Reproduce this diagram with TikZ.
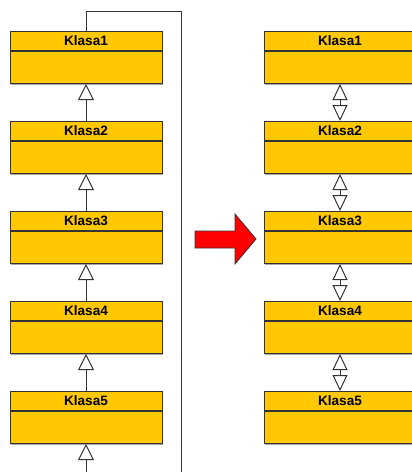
\documentclass[tikz,border=0pt]{standalone}
\usepackage{fontspec}
\setmainfont{Liberation Sans}
\usetikzlibrary{arrows.meta,shadows}
\definecolor{boxfill}{HTML}{FFC800}
\definecolor{edge}{HTML}{333333}
\definecolor{arrred}{HTML}{FF0000}
\tikzset{
  hdr/.style={draw=edge, line width=1pt, fill=boxfill, minimum width=152pt, minimum height=19pt,
    inner sep=0pt, anchor=north, font=\fontsize{13.6}{15}\selectfont\bfseries,
    drop shadow={shadow xshift=1pt, shadow yshift=-1pt, fill=gray!70, opacity=1}},
  bodybox/.style={draw=edge, line width=1pt, fill=boxfill, minimum width=152pt, minimum height=32pt,
    inner sep=0pt, anchor=north,
    drop shadow={shadow xshift=1pt, shadow yshift=-1pt, fill=gray!70, opacity=1}},
  gen/.style={draw=edge, line width=1pt, -{Triangle[length=16pt,width=16pt,fill=white,line width=1pt]}},
  dbl/.style={draw=edge, line width=1pt, {Triangle[length=16pt,width=15pt,fill=white,line width=1pt]}-{Triangle[length=16pt,width=15pt,fill=white,line width=1pt]}},
}
\begin{document}
\begin{tikzpicture}[x=1pt,y=-1pt]
\useasboundingbox (0,0) rectangle (412,472);
\begin{scope}
\clip (0,0) rectangle (412,472);
\foreach \i in {1,...,5}{
  \pgfmathsetmacro{\yt}{31+90*(\i-1)}
  \node[hdr] (L\i h) at (86,\yt) {Klasa\i};
  \node[bodybox] (L\i b) at (L\i h.south) {};
  \node[hdr] (R\i h) at (340,\yt) {Klasa\i};
  \node[bodybox] (R\i b) at (R\i h.south) {};
}
\end{scope}
% left generalisation arrows
\draw[gen] (L2h.north) -- (L1b.south);
\draw[gen] (L3h.north) -- (L2b.south);
\draw[gen] (L4h.north) -- (L3b.south);
\draw[gen] (L5h.north) -- (L4b.south);
\coordinate (bot) at (86,472);
\draw[gen] (bot) -- (L5b.south);
% loop line
\coordinate (lc) at (181,11);
\coordinate (lend) at (181,472);
\draw[draw=edge, line width=1pt] (L1h.north) |- (lc) -- (lend);
% right double arrows
\draw[dbl] (R1b.south) -- (R2h.north);
\draw[dbl] (R2b.south) -- (R3h.north);
\draw[dbl] (R3b.south) -- (R4h.north);
\draw[dbl] (R4b.south) -- (R5h.north);
% red arrow
\draw[fill=arrred, draw=black!80, line width=0.8pt]
  (195,231) -- (235,231) -- (235,214) -- (256,239) -- (235,264) -- (235,248) -- (195,248) -- cycle;
\end{tikzpicture}
\end{document}
